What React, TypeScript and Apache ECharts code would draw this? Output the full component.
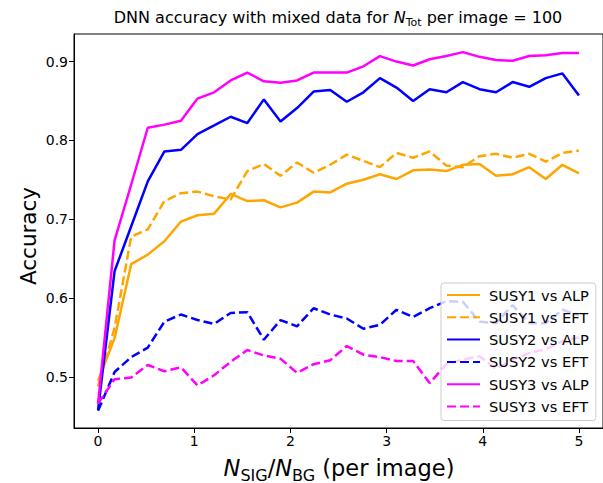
import React, { useEffect, useRef } from "react";
import * as echarts from "echarts";

const xValues = [0, 0.172, 0.345, 0.517, 0.69, 0.862, 1.034, 1.207, 1.379, 1.552, 1.724, 1.897, 2.069, 2.241, 2.414, 2.586, 2.759, 2.931, 3.103, 3.276, 3.448, 3.621, 3.793, 3.966, 4.138, 4.31, 4.483, 4.655, 4.828, 5.0];

const susy1Alp = [0.495, 0.549, 0.643, 0.655, 0.672, 0.697, 0.705, 0.707, 0.732, 0.723, 0.724, 0.715, 0.721, 0.735, 0.734, 0.745, 0.75, 0.757, 0.751, 0.762, 0.763, 0.761, 0.769, 0.77, 0.755, 0.757, 0.766, 0.751, 0.769, 0.758];
const susy1Eft = [0.488, 0.562, 0.678, 0.687, 0.723, 0.733, 0.735, 0.729, 0.725, 0.761, 0.77, 0.755, 0.772, 0.759, 0.769, 0.782, 0.774, 0.766, 0.784, 0.778, 0.786, 0.768, 0.766, 0.78, 0.783, 0.778, 0.783, 0.773, 0.784, 0.787];
const susy2Alp = [0.458, 0.634, 0.691, 0.748, 0.786, 0.788, 0.808, 0.819, 0.83, 0.822, 0.852, 0.824, 0.841, 0.862, 0.864, 0.849, 0.861, 0.879, 0.867, 0.85, 0.865, 0.861, 0.874, 0.865, 0.861, 0.874, 0.868, 0.879, 0.885, 0.857];
const susy2Eft = [0.457, 0.506, 0.525, 0.537, 0.57, 0.579, 0.572, 0.567, 0.581, 0.582, 0.547, 0.572, 0.564, 0.587, 0.579, 0.574, 0.561, 0.566, 0.585, 0.576, 0.587, 0.596, 0.595, 0.57, 0.568, 0.591, 0.568, 0.568, 0.585, 0.578];
const susy3Alp = [0.466, 0.673, 0.744, 0.816, 0.82, 0.825, 0.853, 0.861, 0.876, 0.886, 0.875, 0.873, 0.876, 0.886, 0.886, 0.886, 0.894, 0.907, 0.9, 0.895, 0.903, 0.907, 0.912, 0.906, 0.902, 0.901, 0.907, 0.908, 0.911, 0.911];
const susy3Eft = [0.466, 0.497, 0.499, 0.515, 0.507, 0.512, 0.489, 0.502, 0.519, 0.534, 0.527, 0.523, 0.505, 0.516, 0.521, 0.539, 0.528, 0.525, 0.52, 0.52, 0.492, 0.516, 0.522, 0.526, 0.51, 0.522, 0.53, 0.535, 0.545, 0.55];

const xTicks = [0, 1, 2, 3, 4, 5];
const yTicks = [0.5, 0.6, 0.7, 0.8, 0.9];

const seriesDefs = [
  { name: "SUSY1 vs ALP", data: susy1Alp, color: "#FFA500", dashed: false },
  { name: "SUSY1 vs EFT", data: susy1Eft, color: "#FFA500", dashed: true },
  { name: "SUSY2 vs ALP", data: susy2Alp, color: "#0000FF", dashed: false },
  { name: "SUSY2 vs EFT", data: susy2Eft, color: "#0000FF", dashed: true },
  { name: "SUSY3 vs ALP", data: susy3Alp, color: "#FF00FF", dashed: false },
  { name: "SUSY3 vs EFT", data: susy3Eft, color: "#FF00FF", dashed: true },
];

const FONT = "DejaVu Sans";

export default function App() {
  const ref = useRef<HTMLDivElement>(null);
  useEffect(() => {
    if (!ref.current) return;
    const chart = echarts.init(ref.current, null, { renderer: "svg" });
    const mainTok = (size: number, lh: number) => ({ fontSize: size, fontFamily: FONT, color: "#000", lineHeight: lh, verticalAlign: "middle" });
    const italTok = (size: number, lh: number) => ({ ...mainTok(size, lh), fontStyle: "italic" });
    const subTok = (size: number, lh: number) => ({ fontSize: size, fontFamily: FONT, color: "#000", lineHeight: lh, verticalAlign: "bottom" });
    chart.setOption({
      animation: false,
      grid: { left: 74, top: 34, width: 529.5, height: 394, show: true, borderColor: "#000", borderWidth: 1, backgroundColor: "transparent" },
      xAxis: {
        type: "value",
        min: -0.25,
        max: 5.25,
        axisLine: { show: true, onZero: false, lineStyle: { color: "#000", width: 1 } },
        axisTick: { show: true, customValues: xTicks, length: 5, lineStyle: { color: "#000" } },
        axisLabel: { customValues: xTicks, fontFamily: FONT, fontSize: 14, color: "#000", margin: 6, formatter: (v: number) => String(v) },
        splitLine: { show: false },
      },
      yAxis: {
        type: "value",
        min: 0.435,
        max: 0.935,
        axisLine: { show: true, onZero: false, lineStyle: { color: "#000", width: 1 } },
        axisTick: { show: true, customValues: yTicks, length: 5, lineStyle: { color: "#000" } },
        axisLabel: { customValues: yTicks, fontFamily: FONT, fontSize: 14, color: "#000", margin: 6, formatter: (v: number) => v.toFixed(1) },
        splitLine: { show: false },
      },
      legend: {
        orient: "vertical",
        left: 441,
        top: 283,
        itemWidth: 33,
        itemHeight: 10,
        itemGap: 6.3,
        padding: [4, 7, 6, 5],
        backgroundColor: "rgba(255,255,255,0.8)",
        borderColor: "#cccccc",
        borderWidth: 1,
        borderRadius: 3,
        itemStyle: { color: "rgba(0,0,0,0)", borderColor: "rgba(0,0,0,0)", borderWidth: 0, opacity: 0 },
        textStyle: { fontFamily: FONT, fontSize: 14.6, color: "#000", lineHeight: 16, padding: [0, 0, 0, 4] },
        data: seriesDefs.map((s) => s.name),
      },
      series: seriesDefs.map((s) => ({
        name: s.name,
        type: "line",
        symbol: "none",
        data: xValues.map((x, i) => [x, s.data[i]]),
        lineStyle: { color: s.color, width: 2.5, type: s.dashed ? [9, 4] : "solid", cap: "butt" },
        itemStyle: { color: s.color },
        color: s.color,
      })),
      graphic: [
        {
          type: "text",
          x: 338,
          y: 17,
          style: {
            text: "{t|DNN accuracy with mixed data for }{i|N}{s|Tot}{t| per image = 100}",
            align: "center",
            verticalAlign: "middle",
            rich: { t: mainTok(16, 22), i: italTok(16, 22), s: subTok(11, 14) },
          },
        },
        {
          type: "text",
          x: 339,
          y: 468,
          style: {
            text: "{i|N}{s|SIG}{t|/}{i|N}{s|BG}{t| (per image)}",
            align: "center",
            verticalAlign: "middle",
            rich: { t: mainTok(22.5, 30), i: italTok(22.5, 30), s: subTok(16, 19) },
          },
        },
        {
          type: "text",
          x: 28,
          y: 236,
          rotation: Math.PI / 2,
          style: {
            text: "Accuracy",
            align: "center",
            verticalAlign: "middle",
            fontFamily: FONT,
            fontSize: 21.5,
            fill: "#000",
          },
        },
      ],
    });
    return () => chart.dispose();
  }, []);
  return <div ref={ref} style={{ width: 603, height: 483, position: "absolute", left: 0, top: 0 }} />;
}
